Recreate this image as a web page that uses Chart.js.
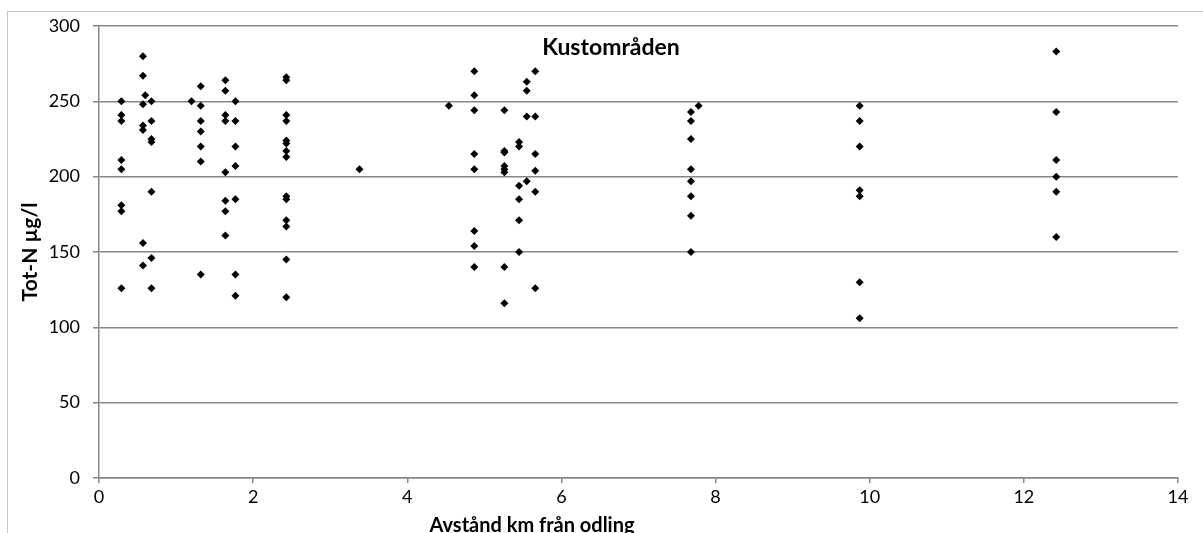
<!DOCTYPE html>
<html lang="sv">
<head>
<meta charset="utf-8">
<title>Tot-N – Kustområden</title>
<script src="https://cdn.jsdelivr.net/npm/chart.js@4.4.1/dist/chart.umd.min.js"></script>
<style>
  html, body { margin: 0; padding: 0; background: #fff; overflow: hidden; }
  #ram {
    position: absolute; left: 7px; top: 11px; width: 1300px; height: 700px;
    border-left: 1px solid #c4c4c4; border-top: 1px solid #c4c4c4;
  }
  #wrap { position: absolute; left: 0; top: 0; width: 1203px; height: 545px; }
</style>
</head>
<body>
<div id="ram"></div>
<div id="wrap"><canvas id="diagram"></canvas></div>
<script>
// Tot-N (µg/l) per station, grupperat på avstånd från odlingen (km)
const avstand = [0.29, 0.57, 0.60, 0.68, 1.20, 1.32, 1.64, 1.77, 2.43, 3.38,
                 4.54, 4.87, 5.26, 5.45, 5.55, 5.66, 7.68, 7.78, 9.87, 12.42];

const totN = [
  [250, 241, 237, 211, 205, 181, 177, 126],
  [280, 267, 248, 234, 231, 156, 141],
  [254],
  [250, 237, 225, 223, 190, 146, 126],
  [250],
  [260, 247, 237, 230, 220, 210, 135],
  [264, 257, 241, 237, 203, 184, 177, 161],
  [250, 237, 220, 207, 185, 135, 121],
  [266, 264, 241, 237, 224, 222, 217, 213, 187, 185, 171, 167, 145, 120],
  [205],
  [247],
  [270, 254, 244, 215, 205, 164, 154, 140],
  [244, 217, 216, 207, 205, 203, 140, 116],
  [223, 220, 194, 185, 171, 150],
  [263, 257, 240, 197],
  [270, 240, 215, 204, 190, 126],
  [243, 237, 225, 205, 197, 187, 174, 150],
  [247],
  [247, 237, 220, 191, 187, 130, 106],
  [283, 243, 211, 200, 190, 160]
];

const xTicks = [0, 2, 4, 6, 8, 10, 12, 14];
const yTicks = [0, 50, 100, 150, 200, 250, 300];

const rubrik = "Kustområden";
const xTitel = "Avstånd km från odling";
const yTitel = "Tot-N µg/l";

const punkter = [];
avstand.forEach((km, i) => {
  totN[i].forEach((v) => punkter.push({ x: km, y: v }));
});

const FONT = "Lato, 'Open Sans', sans-serif";
const GRA = "#878787";

// Rubriken ligger inne i ritytan och x-titeln är inte centrerad under axeln,
// så båda ritas för hand efter diagrammet
const texterPlugin = {
  id: "texter",
  afterDraw(chart) {
    const ctx = chart.ctx;
    ctx.save();
    ctx.fillStyle = "#000";
    ctx.textAlign = "center";
    ctx.textBaseline = "middle";
    ctx.font = "bold 23px " + FONT;
    ctx.fillText(rubrik, 611, 48);
    ctx.font = "bold 20px " + FONT;
    ctx.fillText(xTitel, 532, 526);
    ctx.restore();
  }
};

new Chart(document.getElementById("diagram"), {
  type: "scatter",
  data: {
    datasets: [{
      label: "Tot-N",
      data: punkter,
      pointStyle: "rectRot",
      pointRadius: 4,
      pointHoverRadius: 4,
      backgroundColor: "#000",
      borderColor: "#000",
      borderWidth: 0
    }]
  },
  options: {
    responsive: true,
    maintainAspectRatio: false,
    animation: false,
    layout: { padding: { left: 0, top: 26, right: 25, bottom: 0 } },
    plugins: {
      legend: { display: false },
      tooltip: { enabled: false }
    },
    scales: {
      x: {
        type: "linear",
        min: 0, max: 14,
        afterBuildTicks: (s) => { s.ticks = xTicks.map((v) => ({ value: v })); },
        afterFit: (s) => { s.height = 67; },
        grid: { drawOnChartArea: false, drawTicks: true, tickLength: 5, color: GRA, lineWidth: 1.5 },
        border: { color: GRA, width: 1.5 },
        ticks: { color: "#000", padding: 3, font: { family: FONT, size: 18 } }
      },
      y: {
        type: "linear",
        min: 0, max: 300,
        afterBuildTicks: (s) => { s.ticks = yTicks.map((v) => ({ value: v })); },
        afterFit: (s) => { s.width = 99; },
        grid: { color: GRA, lineWidth: 1.5, tickLength: 6 },
        border: { color: GRA, width: 1.5 },
        ticks: { color: "#000", padding: 13, font: { family: FONT, size: 18 } },
        title: {
          display: true, text: yTitel, color: "#000",
          font: { family: FONT, size: 21, weight: "bold" },
          padding: { top: 18, bottom: 0 }
        }
      }
    }
  },
  plugins: [texterPlugin]
});
</script>
</body>
</html>
